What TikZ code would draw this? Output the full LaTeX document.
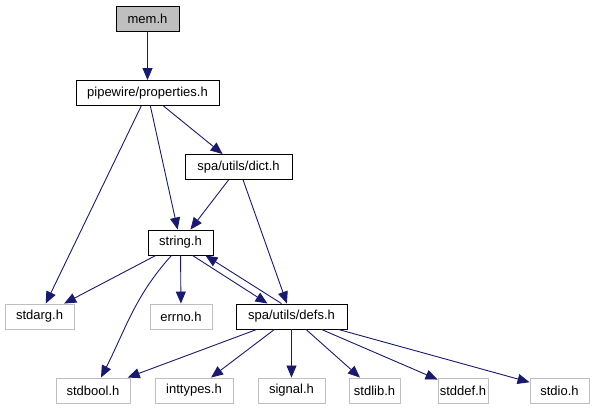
\documentclass[tikz,border=0pt]{standalone}
\usepackage{fontspec}
\setmainfont{Liberation Sans}
\usepackage{tikz}
\usetikzlibrary{arrows.meta}
\definecolor{edgeblue}{RGB}{25,25,112}
\definecolor{boxgray}{RGB}{191,191,191}
\tikzset{
  file/.style={rectangle, draw=black, fill=white, minimum height=25pt, inner sep=0pt, font=\fontsize{13}{15}\selectfont, line width=0.9pt},
  sysfile/.style={file, draw=boxgray},
  arrow/.style={-{Triangle[length=12pt,width=10pt]}, line width=0.9pt, color=edgeblue}
}

\begin{document}
\begin{tikzpicture}[x=1pt, y=1pt]
  \useasboundingbox (0,0) rectangle (597,411);

  \node [file, fill=boxgray, minimum width=63pt] (mem) at (147.5,392.5) {mem.h};
  \node [file, minimum width=143pt] (props) at (147.5,318) {pipewire/properties.h};
  \node [file, minimum width=107pt] (dict) at (238.5,244) {spa/utils/dict.h};
  \node [file, minimum width=65pt] (string) at (180.5,168.5) {string.h};
  \node [sysfile, minimum width=69pt] (stdarg) at (39.5,94.5) {stdarg.h};
  \node [sysfile, minimum width=62pt] (errno) at (181,94.5) {errno.h};
  \node [file, minimum width=111pt] (defs) at (291.5,94.5) {spa/utils/defs.h};
  \node [sysfile, minimum width=74pt] (stdbool) at (93,20.5) {stdbool.h};
  \node [sysfile, minimum width=78pt] (inttypes) at (194,20.5) {inttypes.h};
  \node [sysfile, minimum width=67pt] (signal) at (291.5,20.5) {signal.h};
  \node [sysfile, minimum width=51pt] (stdlib) at (374.5,20.5) {stdlib.h};
  \node [sysfile, minimum width=50pt] (stddef) at (463,20.5) {stddef.h};
  \node [sysfile, minimum width=59pt] (stdio) at (559.5,20.5) {stdio.h};

  \draw [arrow] (mem) -- (props);
  \draw [arrow] (props) -- (stdarg);
  \draw [arrow] (props) -- (string);
  \draw [arrow] (props) -- (dict);
  \draw [arrow] (dict) -- (string);
  \draw [arrow] (dict) -- (defs);
  \draw [arrow] (string) -- (stdarg);
  \draw [arrow] ([xshift=-9pt]string.south) to[out=228, in=63] ([xshift=8pt]stdbool.north);
  \draw [arrow] (string) -- (errno);
  \draw [arrow] ([xshift=12pt]string.south) -- ([xshift=-24pt]defs.north);
  \draw [arrow] ([xshift=-10pt]defs.north) -- ([xshift=-8pt]string.south east);
  \draw [arrow] (defs) -- (stdbool);
  \draw [arrow] (defs) -- (inttypes);
  \draw [arrow] (defs) -- (signal);
  \draw [arrow] (defs) -- (stdlib);
  \draw [arrow] (defs) -- (stddef);
  \draw [arrow] (defs) -- (stdio);
\end{tikzpicture}
\end{document}
